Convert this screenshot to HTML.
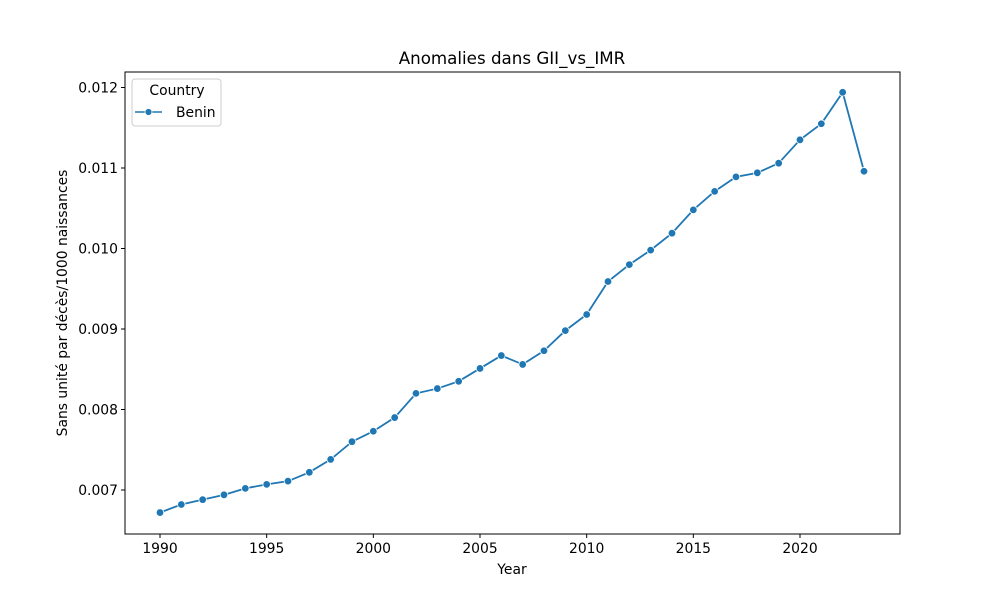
<!DOCTYPE html>
<html><head><meta charset="utf-8"><style>
body{margin:0;background:#fff;}
svg text{font-family:"DejaVu Sans","Liberation Sans",sans-serif;fill:#000;}
</style></head><body>
<svg id="chart" width="1000" height="600">
<rect x="125" y="72" width="775" height="462" fill="none" stroke="#000" stroke-width="1"/>
<text x="512" y="64" font-size="16.7" text-anchor="middle">Anomalies dans GII_vs_IMR</text>
<text x="512" y="574" font-size="13.9" text-anchor="middle">Year</text>
<text transform="translate(67,303) rotate(-90)" font-size="13.9" text-anchor="middle">Sans unité par décès/1000 naissances</text>
<g id="ticks"></g>
<g id="series"></g>
<g>
<rect x="132" y="79" width="89" height="47" rx="3" fill="#fff" stroke="#ccc"/>
<text x="177" y="95" font-size="13.9" text-anchor="middle">Country</text>
<line x1="135" y1="112" x2="162" y2="112" stroke="#1f77b4" stroke-width="1.5"/>
<circle cx="148.5" cy="112" r="3.5" fill="#1f77b4" stroke="#fff" stroke-width="0.8"/>
<text x="176" y="117" font-size="13.9">Benin</text>
</g>
</svg>
<script>
const years=[1990,1991,1992,1993,1994,1995,1996,1997,1998,1999,2000,2001,2002,2003,2004,2005,2006,2007,2008,2009,2010,2011,2012,2013,2014,2015,2016,2017,2018,2019,2020,2021,2022,2023];
const values=[0.00672,0.00682,0.00688,0.00694,0.00702,0.00707,0.00711,0.00722,0.00738,0.00760,0.00773,0.00790,0.00820,0.00826,0.00835,0.00851,0.00867,0.00856,0.00873,0.00898,0.00918,0.00959,0.00980,0.00998,0.01019,0.01048,0.01071,0.01089,0.01094,0.01106,0.01135,0.01155,0.01194,0.01096];
const xTicks=[1990,1995,2000,2005,2010,2015,2020];
const yTicks=[0.007,0.008,0.009,0.010,0.011,0.012];
const yTickLabels=["0.007","0.008","0.009","0.010","0.011","0.012"];
const NS="http://www.w3.org/2000/svg";
function xs(v){return 160+(v-1990)*(640/30);}
function ys(v){return 490-(v-0.007)*80500;}
const tg=document.getElementById('ticks');
xTicks.forEach(t=>{
  const l=document.createElementNS(NS,'line');
  l.setAttribute('x1',xs(t));l.setAttribute('x2',xs(t));l.setAttribute('y1',534);l.setAttribute('y2',538);l.setAttribute('stroke','#000');
  
  
  tg.appendChild(l);
  const tx=document.createElementNS(NS,'text');
  tx.setAttribute('x',xs(t));tx.setAttribute('y',553);tx.setAttribute('font-size','13.9');tx.setAttribute('text-anchor','middle');tx.textContent=t;
  
  
  tg.appendChild(tx);
});
yTicks.forEach((t,i)=>{
  const l=document.createElementNS(NS,'line');
  l.setAttribute('x1',121);l.setAttribute('x2',125);l.setAttribute('y1',ys(t));l.setAttribute('y2',ys(t));l.setAttribute('stroke','#000');
  
  
  tg.appendChild(l);
  const tx=document.createElementNS(NS,'text');
  tx.setAttribute('x',118);tx.setAttribute('y',ys(t)+5);tx.setAttribute('font-size','13.9');tx.setAttribute('text-anchor','end');tx.textContent=yTickLabels[i];
  
  
  tg.appendChild(tx);
});
const sg=document.getElementById('series');
const p=document.createElementNS(NS,'polyline');
p.setAttribute('points',years.map((y,i)=>xs(y)+','+ys(values[i])).join(' '));
p.setAttribute('fill','none');p.setAttribute('stroke','#1f77b4');p.setAttribute('stroke-width','1.8');


sg.appendChild(p);
years.forEach((y,i)=>{
  const c=document.createElementNS(NS,'circle');
  c.setAttribute('cx',xs(y));c.setAttribute('cy',ys(values[i]));c.setAttribute('r',3.8);
  c.setAttribute('fill','#1f77b4');c.setAttribute('stroke','#fff');c.setAttribute('stroke-width','0.8');
  
  
  sg.appendChild(c);
});
</script>
</body></html>
